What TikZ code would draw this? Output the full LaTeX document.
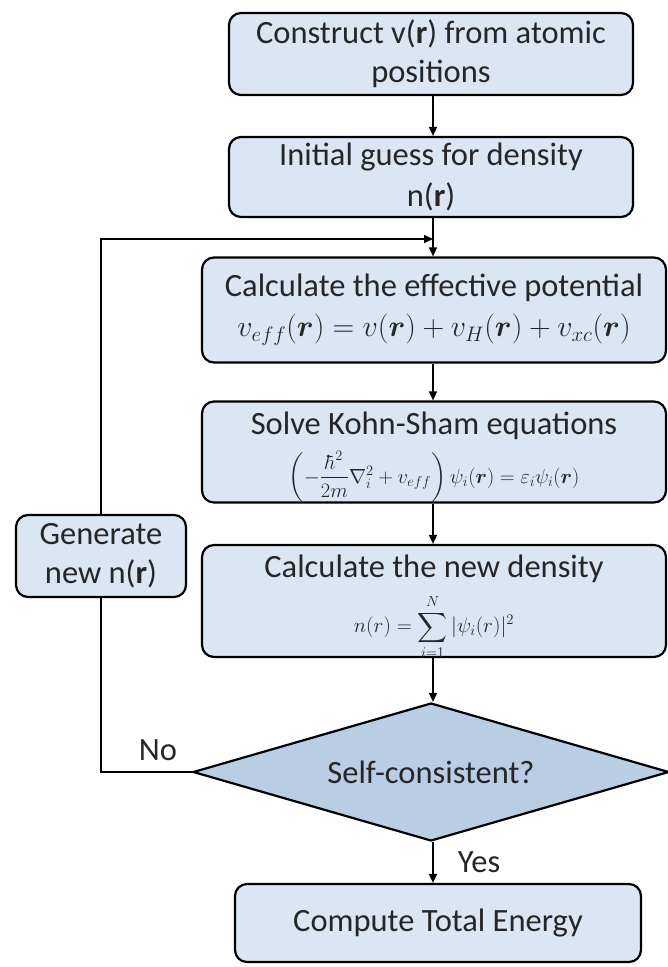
\RequirePackage{fix-cm}
\documentclass[tikz,border=0pt]{standalone}
\usepackage{amsmath,bm}
\usepackage{fontspec}
\setmainfont{Carlito}
\usetikzlibrary{shapes.geometric,arrows.meta}
\definecolor{boxfill}{HTML}{DCE6F2}
\definecolor{diafill}{HTML}{B9CDE5}
\definecolor{txtcol}{HTML}{262626}
\begin{document}
\begin{tikzpicture}[x=1pt,y=-1pt,
  box/.style={draw=black, line width=2.2pt, rounded corners=12pt, fill=boxfill,
    text=txtcol, font=\fontsize{32.5}{39}\selectfont, align=center, inner sep=0pt},
  dia/.style={shape=diamond, draw=black, line width=2.2pt, fill=diafill, text=txtcol,
    aspect=3.45, minimum width=476pt, minimum height=138pt, inner sep=0pt,
    font=\fontsize{32.5}{39}\selectfont},
  lbl/.style={text=txtcol, font=\fontsize{32.5}{39}\selectfont, inner sep=0pt},
  line/.style={line width=1.6pt, draw=black},
  conn/.style={line, -{Triangle[length=9pt,width=8pt]}}]
\path[use as bounding box] (0,0) rectangle (667,967);
\coordinate (axis) at (433,0);
\coordinate (join) at (433,239);

\node[box, minimum width=404pt, minimum height=82pt] (box1) at (431,54)
  {Construct v(\textbf{r}) from atomic\\positions};
\node[box, minimum width=404pt, minimum height=80pt] (box2) at (431,177)
  {Initial guess for density\\[2pt]n(\textbf{r})};
\node[box, minimum width=464pt, minimum height=105pt] (box3) at (434,310)
  {Calculate the effective potential\\[1pt]
   {\fontsize{30}{36}\selectfont $v_{eff}(\bm{r}) = v(\bm{r}) + v_H(\bm{r}) + v_{xc}(\bm{r})$}};

\node[box, minimum width=464pt, minimum height=101pt] (box4) at (434,452) {};
\node[lbl] (box4title) at (434,426) {Solve Kohn-Sham equations};
\node[lbl, font=\fontsize{20.5}{25}\selectfont] (box4eq) at (434,477)
  {$\left(-\dfrac{\hbar^2}{2m}\nabla_i^2 + v_{eff}\right)\psi_i(\bm{r}) = \varepsilon_i\psi_i(\bm{r})$};

\node[box, minimum width=464pt, minimum height=112pt] (box5) at (434,601) {};
\node[lbl] (box5title) at (434,569) {Calculate the new density};
\node[lbl, font=\fontsize{21}{25}\selectfont] (box5eq) at (434,627)
  {$\displaystyle n(r) = \sum_{i=1}^{N} |\psi_i(r)|^2$};

\node[dia] (dia) at (431,772) {Self-consistent?};
\node[box, minimum width=406pt, minimum height=78pt] (box6) at (438,923)
  {Compute Total Energy};
\node[box, minimum width=170pt, minimum height=82pt] (gen) at (101,556)
  {Generate\\new n(\textbf{r})};

\node[lbl] (no) at (158,750) {No};
\node[lbl] (yes) at (479,862) {Yes};

\draw[conn] (box1.south -| axis) -- (box2.north -| axis);
\draw[conn] (box2.south -| axis) -- (box3.north -| axis);
\draw[conn] (box3.south -| axis) -- (box4.north -| axis);
\draw[conn] (box4.south -| axis) -- (box5.north -| axis);
\draw[conn] (box5.south -| axis) -- (dia.north -| axis);
\draw[conn] (dia.south -| axis) -- (box6.north -| axis);
\draw[line] (dia.west) -- (gen.south |- dia.west) -- (gen.south);
\draw[conn] (gen.north) |- (join);
\end{tikzpicture}
\end{document}
